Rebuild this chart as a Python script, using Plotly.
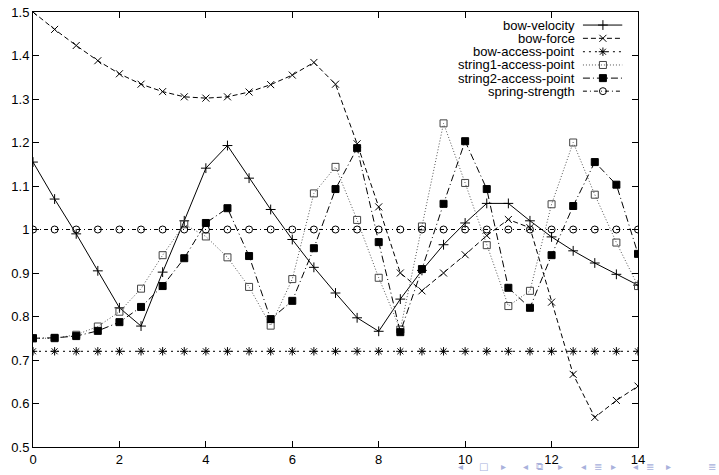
import plotly.graph_objects as go

x_vals = [0, 0.5, 1, 1.5, 2, 2.5, 3, 3.5, 4, 4.5, 5, 5.5, 6, 6.5, 7,
          7.5, 8, 8.5, 9, 9.5, 10, 10.5, 11, 11.5, 12, 12.5, 13, 13.5, 14]

bow_velocity = [1.155, 1.07, 0.99, 0.905, 0.82, 0.778, 0.902, 1.02, 1.141, 1.193,
                1.118, 1.046, 0.977, 0.913, 0.854, 0.797, 0.766, 0.840, 0.906, 0.965,
                1.015, 1.06, 1.06, 1.02, 0.983, 0.951, 0.923, 0.897, 0.872]

bow_force = [1.5, 1.46, 1.423, 1.388, 1.358, 1.334, 1.317, 1.305, 1.302, 1.305,
             1.316, 1.333, 1.355, 1.384, 1.334, 1.197, 1.052, 0.90, 0.859, 0.90,
             0.942, 0.986, 1.023, 1.004, 0.833, 0.667, 0.568, 0.607, 0.64]

bow_access_point = [0.72] * 29

string1_access_point = [0.75, 0.75, 0.758, 0.777, 0.811, 0.864, 0.941, 1.012, 0.984, 0.936,
                        0.868, 0.779, 0.886, 1.083, 1.144, 1.022, 0.889, 0.77, 1.007, 1.244,
                        1.107, 0.964, 0.824, 0.859, 1.058, 1.20, 1.080, 0.97, 0.87]

string2_access_point = [0.75, 0.751, 0.755, 0.767, 0.787, 0.822, 0.870, 0.934, 1.015, 1.049,
                        0.939, 0.794, 0.836, 0.957, 1.093, 1.187, 0.971, 0.764, 0.909, 1.059,
                        1.203, 1.093, 0.866, 0.82, 0.941, 1.054, 1.155, 1.103, 0.944]

spring_strength = [1.0] * 29

x_ticks = [0, 2, 4, 6, 8, 10, 12, 14]
y_ticks = [0.5, 0.6, 0.7, 0.8, 0.9, 1.0, 1.1, 1.2, 1.3, 1.4, 1.5]

series_names = ["bow-velocity", "bow-force", "bow-access-point",
                "string1-access-point", "string2-access-point", "spring-strength"]
series_data = [bow_velocity, bow_force, bow_access_point,
               string1_access_point, string2_access_point, spring_strength]

styles = [
    dict(dash="solid", color="#000000", symbol="cross-thin-open", size=7, mline="#000000"),
    dict(dash="5px,3px", color="#000000", symbol="x-thin-open", size=7, mline="#000000"),
    dict(dash="2px,4px", color="#000000", symbol="asterisk-open", size=7, mline="#000000"),
    dict(dash="1px,2px", color="#555555", symbol="square-open", size=7, mline="#444444"),
    dict(dash="7px,3px,1px,3px", color="#000000", symbol="square", size=7, mline="#000000"),
    dict(dash="4px,3px,1px,3px", color="#000000", symbol="circle-open", size=7, mline="#000000"),
]

FONT = "Liberation Sans, Arial, Helvetica, sans-serif"

fig = go.Figure()

for name, ys, st in zip(series_names, series_data, styles):
    fig.add_trace(go.Scatter(
        x=x_vals, y=ys, name=name, mode="lines+markers",
        line=dict(color=st["color"], width=1, dash=st["dash"]),
        marker=dict(symbol=st["symbol"], size=st["size"], color=st["mline"],
                    line=dict(color=st["mline"], width=1)),
        showlegend=False,
    ))

# Custom gnuplot-style key (text right-aligned, sample to the right)
key_y = [0.970, 0.9395, 0.9087, 0.8782, 0.848, 0.818]
key_x0, key_x1, key_xm, key_text_x = 0.909, 0.974, 0.942, 0.899
for name, st, ky in zip(series_names, styles, key_y):
    fig.add_trace(go.Scatter(
        x=[key_x0, key_x1], y=[ky, ky], mode="lines",
        line=dict(color=st["color"], width=1, dash=st["dash"]),
        xaxis="x2", yaxis="y2", showlegend=False, hoverinfo="skip",
    ))
    fig.add_trace(go.Scatter(
        x=[key_xm], y=[ky], mode="markers",
        marker=dict(symbol=st["symbol"], size=st["size"], color=st["mline"],
                    line=dict(color=st["mline"], width=1)),
        xaxis="x2", yaxis="y2", showlegend=False, hoverinfo="skip",
    ))
    fig.add_annotation(
        x=key_text_x, y=ky, xref="paper", yref="paper", text=name,
        showarrow=False, xanchor="right", yanchor="middle",
        font=dict(family=FONT, size=13, color="#000000"),
    )

# Beamer navigation symbols (bottom right)
nav_color = "#a9b1dc"
nav_items = [("◂", 460), ("□", 483), ("▸", 503), ("◂", 525), ("⧉", 539), ("▸", 560),
             ("◂", 583), ("≣", 598), ("▸", 613), ("◂", 635), ("≣", 650), ("▸", 668), ("≣", 712)]
for glyph, px in nav_items:
    fig.add_annotation(
        x=(px - 33) / 605, y=(447 - 466) / 435, xref="paper", yref="paper",
        text=glyph, showarrow=False, xanchor="center", yanchor="middle",
        font=dict(family="DejaVu Sans", size=10, color=nav_color),
    )

axis_common = dict(
    showgrid=False, zeroline=False, showline=True, linecolor="#000000", linewidth=1,
    mirror="allticks", ticks="inside", ticklen=6, tickcolor="#000000", tickwidth=1,
    tickfont=dict(family=FONT, size=13, color="#000000"), automargin=False,
    ticklabeloverflow="allow",
)

fig.update_layout(
    width=719, height=475,
    margin=dict(l=33, r=81, t=12, b=28, autoexpand=False),
    paper_bgcolor="#ffffff", plot_bgcolor="#ffffff",
    xaxis=dict(range=[0, 14], tickvals=x_ticks, **axis_common),
    yaxis=dict(range=[0.5, 1.5], tickvals=y_ticks, **axis_common),
    xaxis2=dict(range=[0, 1], overlaying="x", visible=False, fixedrange=True),
    yaxis2=dict(range=[0, 1], overlaying="y", visible=False, fixedrange=True),
    font=dict(family=FONT),
)

# remove the browser's default 8px body margin so the figure sits at the page origin
fig.write_html("out.html",
               config={"displayModeBar": False},
               post_script="document.body.style.margin='0';document.body.style.overflow='hidden';")
